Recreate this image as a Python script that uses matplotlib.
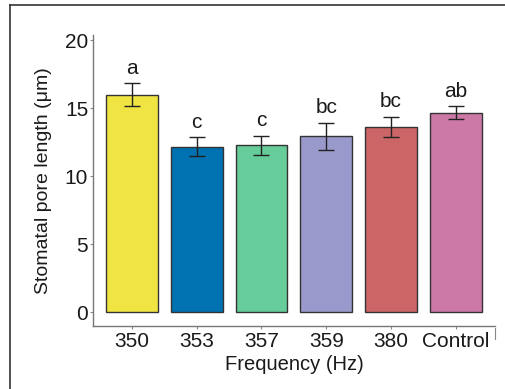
import matplotlib
matplotlib.use("Agg")
from matplotlib import pyplot as plt
from matplotlib.lines import Line2D
import numpy as np

# stomatal pore length per treatment
groups = ["350", "353", "357", "359", "380", "Control"]
means = [16.0, 12.2, 12.3, 12.95, 13.65, 14.7]
errs = [0.85, 0.7, 0.7, 1.0, 0.75, 0.45]
letters = ["a", "c", "c", "bc", "bc", "ab"]
colors = ["#F0E442", "#0072B2", "#66CC99", "#9999CC", "#CC6666", "#CC79A7"]

plt.rcParams["font.family"] = ["Liberation Sans", "DejaVu Sans"]

fig = plt.figure(figsize=(5.06, 3.89), dpi=100)
ax = fig.add_axes([0.1838, 0.162, 0.794, 0.748])

x = np.arange(len(groups))
ax.bar(x, means, width=0.8, color=colors, edgecolor="#333333", linewidth=1.0, zorder=2)
ax.errorbar(x, means, yerr=errs, fmt="none", ecolor="#222222", elinewidth=1.0,
            capsize=6, capthick=1.0, zorder=3)
for xi, m, e, lab in zip(x, means, errs, letters):
    ax.text(xi, m + e + 0.4, lab, ha="center", va="bottom", fontsize=15, color="#1a1a1a")

ax.set_xlim(-0.6, 5.6)
ax.set_ylim(-1.0, 20.4)
ax.set_xticks(x)
ax.set_xticklabels(groups)
ax.set_yticks([0, 5, 10, 15, 20])
ax.tick_params(axis="both", labelsize=15, colors="#888888", labelcolor="#1a1a1a",
               length=2.5, width=0.8)
ax.tick_params(axis="x", pad=2)
ax.tick_params(axis="y", pad=1)

for side in ["top", "right"]:
    ax.spines[side].set_visible(False)
for side in ["left", "bottom"]:
    ax.spines[side].set_color("#777777")
    ax.spines[side].set_linewidth(1.0)

ax.set_xlabel("Frequency (Hz)", fontsize=14.5, color="#1a1a1a", labelpad=2.5)
ax.set_ylabel("Stomatal pore length (\u03bcm)", fontsize=14, color="#1a1a1a", labelpad=9)

# stray tick at the end of the x axis
ax.add_line(Line2D([5.6, 5.6], [-1.15, -1.95], color="#888888", linewidth=0.8,
                   clip_on=False))

# outer frame (left and top edges)
fig.add_artist(Line2D([10 / 506, 10 / 506], [0, 1 - 4.5 / 389],
                      transform=fig.transFigure, color="#333333", linewidth=1.2))
fig.add_artist(Line2D([10 / 506, 1], [1 - 4.5 / 389, 1 - 4.5 / 389],
                      transform=fig.transFigure, color="#333333", linewidth=1.2))

fig.savefig("out.png", dpi=100)
